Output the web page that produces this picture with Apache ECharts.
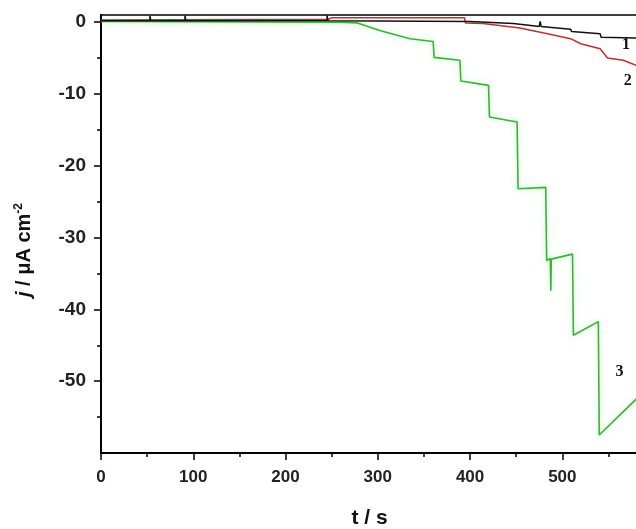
<!DOCTYPE html>
<html>
<head>
<meta charset="utf-8">
<script src="https://cdn.jsdelivr.net/npm/echarts@6/dist/echarts.min.js"></script>
<style>html,body{margin:0;padding:0;background:#fff}#c{width:636px;height:529px}</style>
</head>
<body>
<div id="c"></div>
<script>
// tick values
var xTicks = [0, 100, 200, 300, 400, 500];
var xMinorTicks = [50, 150, 250, 350, 450, 550];
var yTicks = [0, -10, -20, -30, -40, -50];
var yMinorTicks = [-5, -15, -25, -35, -45, -55];

// curve 1 (black) [t, j]
var curve1 = [[0,0.2],[53,0.2],[53,0.9],[54,0.2],[91,0.2],[91,0.9],[92,0.2],[245,0.2],[245,0.9],[246,0.2],
  [400,0.1],[447,-0.2],[475,-0.6],[476,0.1],[477,-0.6],[509,-1.0],[510,-1.3],[541,-1.6],[542,-2.1],[580,-2.2]];
// curve 2 (red)
var curve2 = [[0,0.3],[246,0.4],[250,0.6],[394,0.6],[395,-0.1],[414,-0.2],[454,-0.8],[484,-1.6],[509,-2.3],
  [520,-3.0],[541,-3.7],[549,-5.0],[566,-5.3],[580,-6.0]];
// curve 3 (green)
var curve3 = [[0,0.1],[259,0],[278,-0.1],[303,-1.2],[335,-2.3],[360,-2.7],[361,-4.9],[389,-5.3],[390,-8.2],
  [420,-8.8],[421,-13.2],[451,-13.9],[452,-23.2],[482,-23.0],[483,-33.2],[487,-32.9],[487.5,-37.4],[488,-33.0],
  [511,-32.3],[512,-43.6],[514,-43.6],[539,-41.7],[540,-57.5],[541,-57.5],[580,-52.5]];
// curve labels: [text, t, j]
var curveLabels = [['1',569,-3.2],['2',571,-8.2],['3',562,-48.7]];

var chart = echarts.init(document.getElementById('c'), null, {renderer:'canvas'});
var font = 'Liberation Sans, Arial, sans-serif';
var X_MIN = 0, X_MAX = 582, Y_MIN = -60, Y_MAX = 1;
var tickLine = {color: '#000', width: 1.5};
var option = {
  animation: false,
  backgroundColor: '#fff',
  grid: {left: 101, top: 15, right: -2, bottom: 76, show: true, borderColor: '#000', borderWidth: 1.5,
    backgroundColor: 'transparent', containLabel: false, outerBoundsMode: 'none'},
  xAxis: [{
    type: 'value', min: X_MIN, max: X_MAX,
    name: 't / s', nameLocation: 'middle', nameGap: 55,
    nameTextStyle: {fontFamily: font, fontSize: 21, fontWeight: 'bold', color: '#111'},
    axisLine: {show: true, onZero: false, lineStyle: {color: '#000', width: 2}},
    axisTick: {show: true, inside: false, length: 7, customValues: xTicks, lineStyle: tickLine},
    splitLine: {show: false},
    axisLabel: {margin: 16, fontFamily: font, fontSize: 17, fontWeight: 'bold', color: '#222', customValues: xTicks}
  }, {
    type: 'value', min: X_MIN, max: X_MAX, position: 'bottom', offset: 0,
    axisLine: {show: false, onZero: false},
    axisTick: {show: true, inside: false, length: 4, customValues: xMinorTicks, lineStyle: tickLine},
    axisLabel: {show: false}, splitLine: {show: false}
  }],
  yAxis: [{
    type: 'value', min: Y_MIN, max: Y_MAX,
    name: '{i|j} / μA cm{sup|-2}', nameLocation: 'middle', nameGap: 66, nameRotate: 90,
    nameTextStyle: {fontFamily: font, fontSize: 20, fontWeight: 'bold', color: '#111', padding: [0, 32, 0, 0],
      rich: {i: {fontFamily: font, fontSize: 20, fontWeight: 'bold', fontStyle: 'italic', color: '#111'},
             sup: {fontFamily: font, fontSize: 12, fontWeight: 'bold', color: '#111', verticalAlign: 'top', padding: [0,0,10,0]}}},
    axisLine: {show: true, onZero: false, lineStyle: {color: '#000', width: 2}},
    axisTick: {show: true, inside: false, length: 7, customValues: yTicks, lineStyle: tickLine},
    splitLine: {show: false},
    axisLabel: {margin: 15, fontFamily: font, fontSize: 19, fontWeight: 'bold', color: '#222', customValues: yTicks}
  }, {
    type: 'value', min: Y_MIN, max: Y_MAX, position: 'left', offset: 0,
    axisLine: {show: false, onZero: false},
    axisTick: {show: true, inside: false, length: 4, customValues: yMinorTicks, lineStyle: tickLine},
    axisLabel: {show: false}, splitLine: {show: false}
  }],
  series: [
    {type: 'line', data: curve1, showSymbol: false, lineStyle: {color: '#111', width: 1.5}, z: 3},
    {type: 'line', data: curve2, showSymbol: false, lineStyle: {color: '#c0302c', width: 1.5}, z: 2},
    {type: 'line', data: curve3, showSymbol: false, lineStyle: {color: '#3bb03b', width: 1.6,
      shadowColor: 'rgba(110,230,110,0.55)', shadowBlur: 6}, z: 1}
  ]
};
chart.setOption(option);
var g = curveLabels.map(function (l) {
  var p = chart.convertToPixel({gridIndex: 0}, [l[1], l[2]]);
  return {type: 'text', x: p[0], y: p[1], style: {text: l[0], fontFamily: 'Liberation Serif, Times New Roman, serif',
    fontSize: 16, fontWeight: 'bold', fill: '#111', align: 'center', verticalAlign: 'middle'}, z: 10};
});
chart.setOption({graphic: g});
</script>
</body>
</html>
